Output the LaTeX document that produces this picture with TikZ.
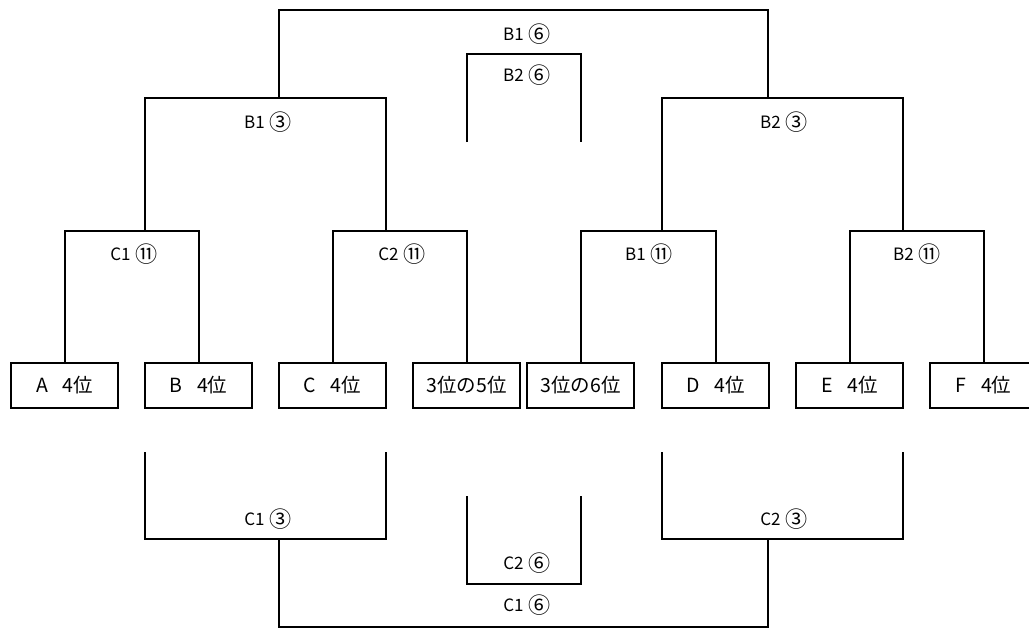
\documentclass[tikz,border=0pt]{standalone}
\usepackage{fontspec}
\setmainfont{Noto Sans CJK JP}
\newcommand{\cn}[1]{\hspace{0.3em}\raisebox{-1.6pt}{\scalebox{1.3}{#1}}}
\begin{document}
\begin{tikzpicture}[x=1pt,y=-1pt,line width=2pt,
  entrybox/.style={draw,minimum width=107pt,minimum height=45pt,inner sep=0pt,font=\fontsize{19.5}{19.5}\selectfont},
  lbl/.style={inner sep=0pt,font=\fontsize{17}{17}\selectfont}]
\useasboundingbox (0,0) rectangle (1029,629);
% boxes
\node[entrybox] (A)  at (64.5,385.5)  {A\hspace{0.75em}4位};
\node[entrybox] (B)  at (198.5,385.5) {B\hspace{0.75em}4位};
\node[entrybox] (C)  at (332.5,385.5) {C\hspace{0.75em}4位};
\node[entrybox] (P5) at (466.5,385.5) {3位の5位};
\node[entrybox] (P6) at (580.5,385.5) {3位の6位};
\node[entrybox] (D)  at (715.5,385.5) {D\hspace{0.75em}4位};
\node[entrybox] (E)  at (849.5,385.5) {E\hspace{0.75em}4位};
\node[entrybox] (F)  at (983.5,385.5) {F\hspace{0.75em}4位};
% junction coordinates (top)
\coordinate (jc1) at (145,231);
\coordinate (jc2) at (386,231);
\coordinate (jb1) at (662,231);
\coordinate (jb2) at (903,231);
\coordinate (jl)  at (279,98);
\coordinate (jr)  at (768,98);
\coordinate (jtop) at (525,10);
\coordinate (m1) at (467,142);
\coordinate (m2) at (581,142);
\coordinate (mtop) at (524,54);
% top brackets
\draw (A.north)  |- (jc1) -| (B.north);
\draw (C.north)  |- (jc2) -| (P5.north);
\draw (P6.north) |- (jb1) -| (D.north);
\draw (E.north)  |- (jb2) -| (F.north);
\draw (jc1) |- (jl) -| (jc2);
\draw (jb1) |- (jr) -| (jb2);
\draw (jl) |- (jtop) -| (jr);
\draw (m1) |- (mtop) -| (m2);
% bottom brackets
\coordinate (q1) at (145,452);
\coordinate (q2) at (386,452);
\coordinate (q3) at (662,452);
\coordinate (q4) at (903,452);
\coordinate (kl) at (279,539);
\coordinate (kr) at (768,539);
\coordinate (kbot) at (525,627);
\coordinate (n1) at (467,496);
\coordinate (n2) at (581,496);
\coordinate (nbot) at (524,584);
\draw (q1) |- (kl) -| (q2);
\draw (q3) |- (kr) -| (q4);
\draw (kl) |- (kbot) -| (kr);
\draw (n1) |- (nbot) -| (n2);
% labels
\node[lbl] (lB16) at (527,34)  {B1\cn{⑥}};
\node[lbl] (lB26) at (527,75)  {B2\cn{⑥}};
\node[lbl] (lB13) at (268,122) {B1\cn{③}};
\node[lbl] (lB23) at (784,122) {B2\cn{③}};
\node[lbl] (lC111) at (134,254) {C1\cn{⑪}};
\node[lbl] (lC211) at (402,254) {C2\cn{⑪}};
\node[lbl] (lB111) at (649,254) {B1\cn{⑪}};
\node[lbl] (lB211) at (917,254) {B2\cn{⑪}};
\node[lbl] (lC13) at (268,519) {C1\cn{③}};
\node[lbl] (lC23) at (784,519) {C2\cn{③}};
\node[lbl] (lC26) at (527,563) {C2\cn{⑥}};
\node[lbl] (lC16) at (527,605) {C1\cn{⑥}};
\end{tikzpicture}
\end{document}
